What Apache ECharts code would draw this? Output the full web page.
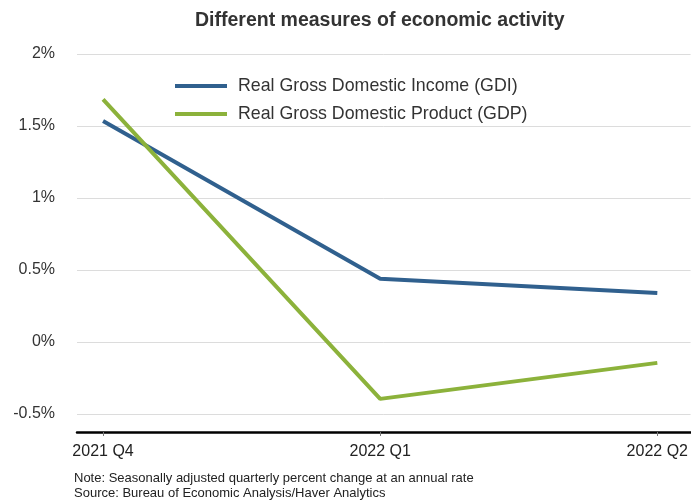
<!DOCTYPE html>
<html lang="en">
<head>
    <meta charset="UTF-8">
    <script src="https://cdn.jsdelivr.net/npm/echarts@6/dist/echarts.min.js"></script>
    <style>
        html, body { margin: 0; padding: 0; background: #fff; }
        #chart { width: 691px; height: 503px; }
    </style>
    <title>Different measures of economic activity</title>
</head>
<body>
    <div id="chart"></div>
    <script type="text/javascript">
        // data
        var quarters = ['2021 Q4', '2022 Q1', '2022 Q2'];
        var gdi = [1.535, 0.44, 0.34];
        var gdp = [1.685, -0.395, -0.145];
        var yTicks = [-0.5, 0, 0.5, 1, 1.5, 2];

        var font = 'Liberation Sans, Arial, sans-serif';
        var chart = echarts.init(document.getElementById('chart'));

        function pairs(vals) {
            return vals.map(function (v, i) { return [i, v]; });
        }

        var option = {
            animation: false,
            textStyle: { fontFamily: font },
            title: {
                text: 'Different measures of economic activity',
                left: 190,
                top: 6,
                textStyle: { fontSize: 19.5, fontWeight: 'bold', color: '#333', fontFamily: font }
            },
            legend: {
                orient: 'vertical',
                left: 170,
                top: 72,
                itemWidth: 52,
                itemHeight: 4,
                itemGap: 10,
                icon: 'rect',
                textStyle: { fontSize: 17.8, color: '#333', fontFamily: font, padding: [0, 0, 0, 6] },
                data: ['Real Gross Domestic Income (GDI)', 'Real Gross Domestic Product (GDP)']
            },
            grid: { left: 77, right: 0, top: 54, bottom: 89 },
            xAxis: {
                type: 'value',
                min: -0.094,
                max: 2.12,
                offset: 18,
                axisLine: { show: true, onZero: false, lineStyle: { color: '#000', width: 2.5 } },
                axisTick: { show: true, customValues: [0, 1, 2], length: 4, lineStyle: { color: '#777' } },
                axisLabel: {
                    customValues: [0, 1, 2],
                    formatter: function (v) { return quarters[Math.round(v)]; },
                    fontSize: 16, color: '#222', margin: 12, fontFamily: font
                },
                splitLine: { show: false }
            },
            yAxis: {
                type: 'value',
                min: yTicks[0],
                max: yTicks[yTicks.length - 1],
                interval: 0.5,
                axisLine: { show: false },
                axisTick: { show: false },
                axisLabel: {
                    formatter: function (v) { return v + '%'; },
                    fontSize: 16, color: '#333', margin: 22, fontFamily: font
                },
                splitLine: { lineStyle: { color: '#dcdcdc', width: 1 } }
            },
            series: [{
                name: 'Real Gross Domestic Income (GDI)',
                type: 'line',
                data: pairs(gdi),
                symbol: 'none',
                lineStyle: { color: '#30608e', width: 4 },
                itemStyle: { color: '#30608e' }
            }, {
                name: 'Real Gross Domestic Product (GDP)',
                type: 'line',
                data: pairs(gdp),
                symbol: 'none',
                lineStyle: { color: '#8cb23b', width: 4 },
                itemStyle: { color: '#8cb23b' }
            }],
            graphic: [{
                type: 'text',
                left: 74,
                top: 471,
                style: {
                    text: 'Note: Seasonally adjusted quarterly percent change at an annual rate\nSource: Bureau of Economic Analysis/Haver Analytics',
                    font: '13px ' + font,
                    fill: '#222',
                    lineHeight: 15
                }
            }]
        };
        chart.setOption(option);
    </script>
</body>
</html>
